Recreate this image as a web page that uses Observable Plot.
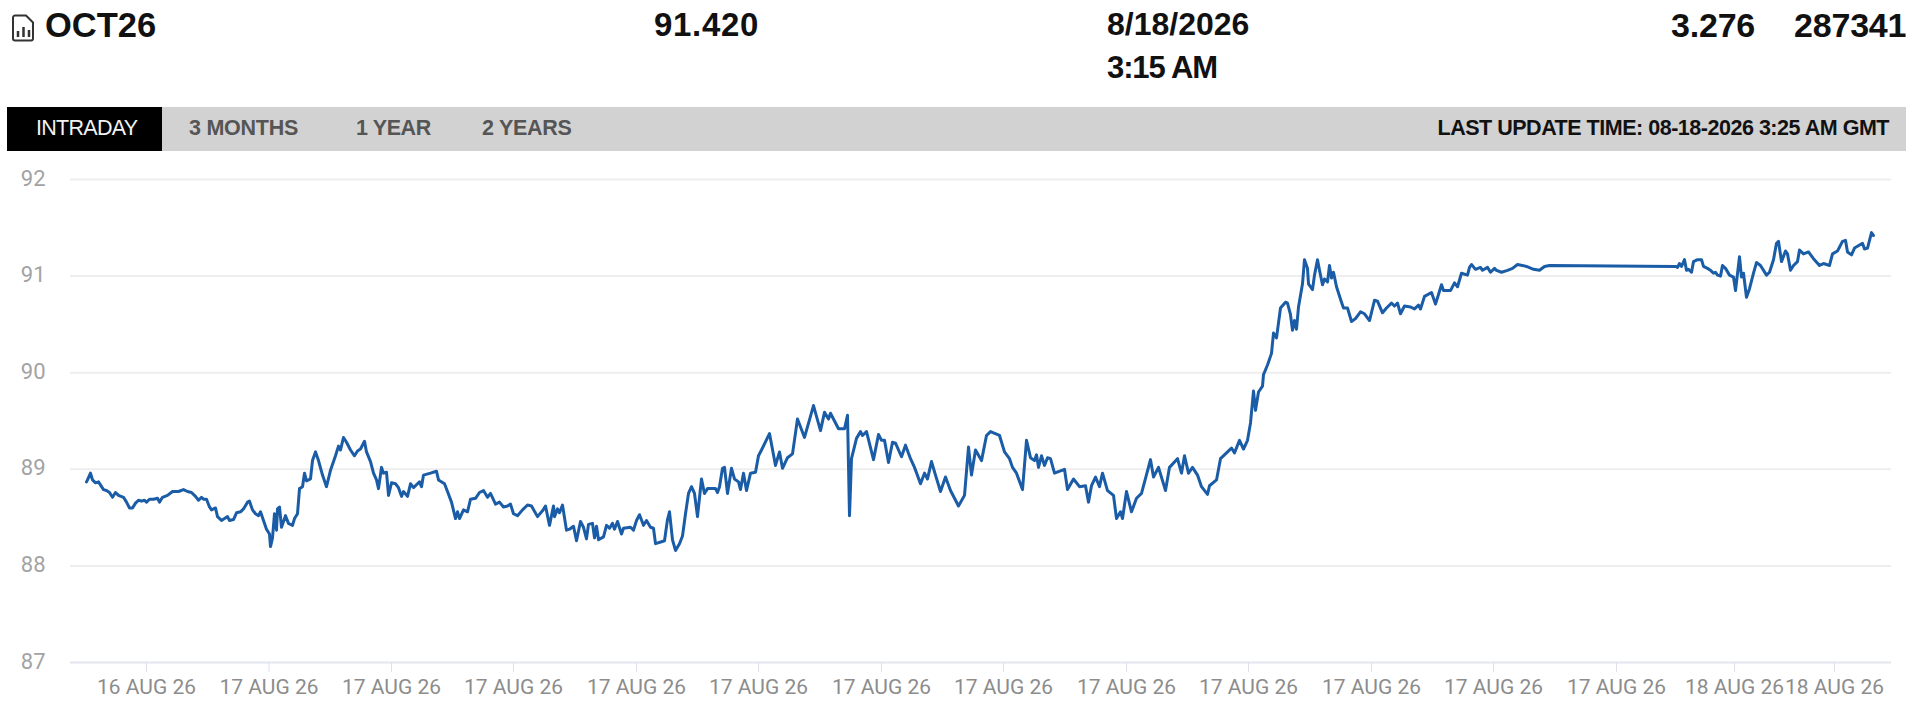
<!DOCTYPE html>
<html>
<head>
<meta charset="utf-8">
<script src="https://cdn.jsdelivr.net/npm/d3@7"></script>
<script src="https://cdn.jsdelivr.net/npm/@observablehq/plot@0.6"></script>
<style>
html,body{margin:0;padding:0;background:#fff;}
body{width:1920px;height:716px;overflow:hidden;position:relative;font-family:"Liberation Sans",Arial,sans-serif;}
#head{position:relative;width:1920px;height:160px;}
#head .t{position:absolute;white-space:nowrap;font-weight:700;color:#111;line-height:1;}
.big{font-size:31px;}
#bar{position:absolute;left:7px;top:107px;width:1899px;height:44px;background:#d2d2d2;}
#tab{position:absolute;left:7px;top:107px;width:155px;height:44px;background:#000;}
.nav{font-size:21.500px;top:118px;letter-spacing:-.25px;}
#chart{position:absolute;left:0;top:160px;}
#chart svg{display:block;}
</style>
</head>
<body>
<div id="head"></div>
<div id="chart"></div>
<script>
// Header and tab text
const contract = "OCT26";
const lastPrice = "91.420";
const quoteDate = "8/18/2026";
const quoteTime = "3:15 AM";
const change = "3.276";
const volume = "287341";
const tabs = ["INTRADAY", "3 MONTHS", "1 YEAR", "2 YEARS"];
const updated = "LAST UPDATE TIME: 08-18-2026 3:25 AM GMT";

// Axis ticks
const priceTicks = [87, 88, 89, 90, 91, 92];
const tickMinutes = [76, 198.5, 321, 443, 566, 688, 811, 933, 1056, 1178, 1301, 1423, 1546, 1664, 1764];
const tickLabels = ["16 AUG 26", "17 AUG 26", "17 AUG 26", "17 AUG 26", "17 AUG 26", "17 AUG 26", "17 AUG 26", "17 AUG 26", "17 AUG 26", "17 AUG 26", "17 AUG 26", "17 AUG 26", "17 AUG 26", "18 AUG 26", "18 AUG 26"];

// Price trace as [minute, price]
const traceA = [[16,88.87],[17,88.89],[20,88.96],[22,88.89],[25,88.86],[28,88.87],[33,88.79],[36,88.78],[39,88.76],[42,88.71],[45,88.76],[48,88.73],[53,88.71],[56,88.66],[59,88.60],[62,88.60],[65,88.65],[68,88.68],[71,88.67],[74,88.68],[76,88.66],[79,88.69],[83,88.69],[87,88.70],[89,88.66],[92,88.71],[97,88.73],[102,88.77],[108,88.77],[113,88.79],[117,88.77],[121,88.76],[125,88.72],[128,88.68],[131,88.71],[133,88.69],[136,88.69],[139,88.61],[141,88.58],[145,88.60],[147,88.51],[151,88.47],[154,88.49],[157,88.51],[159,88.47],[163,88.48],[166,88.55],[170,88.56],[173,88.59],[177,88.66],[179,88.67],[182,88.58],[185,88.54],[188,88.52],[190,88.56],[193,88.47],[196,88.38],[199,88.33],[200,88.20],[202,88.29],[204,88.54],[206,88.37],[207,88.59],[209,88.61],[211,88.40],[215,88.52],[218,88.44],[222,88.42],[224,88.49],[227,88.54],[229,88.80],[232,88.82],[234,88.96],[236,88.88],[240,88.90],[242,89.09],[245,89.18],[248,89.09],[252,88.94],[256,88.82]];
const traceB = [[260,88.99],[265,89.14],[268,89.24],[270,89.20],[273,89.33],[276,89.28],[280,89.20],[284,89.14],[287,89.19],[290,89.21],[294,89.29],[296,89.18],[300,89.08],[303,88.96],[306,88.89],[308,88.80],[311,89.02],[313,88.96],[316,88.97],[318,88.73],[321,88.86],[325,88.85],[328,88.81],[331,88.72],[333,88.77],[337,88.72],[340,88.85],[343,88.81],[347,88.85],[349,88.87],[351,88.82],[353,88.94],[360,88.96],[366,88.98],[368,88.89],[374,88.85],[377,88.77],[381,88.66],[385,88.49],[387,88.56],[389,88.49],[393,88.58],[397,88.56],[400,88.69],[405,88.70],[409,88.76],[413,88.78],[417,88.71],[420,88.75],[425,88.64],[429,88.66],[433,88.61],[437,88.62],[440,88.64],[443,88.54],[447,88.52],[452,88.58],[457,88.63],[461,88.62],[467,88.51],[472,88.57],[475,88.62],[479,88.42],[483,88.62],[484,88.51],[487,88.59],[489,88.55],[492,88.63],[496,88.37],[499,88.38],[503,88.41],[506,88.26]];
const traceC = [[510,88.46],[513,88.40],[516,88.28],[518,88.43],[522,88.44],[524,88.29],[526,88.41],[528,88.27],[533,88.30],[536,88.42],[539,88.39],[542,88.44],[544,88.38],[547,88.46],[551,88.33],[553,88.39],[560,88.40],[563,88.37],[566,88.47],[569,88.53],[573,88.42],[576,88.47],[580,88.40],[583,88.39],[585,88.23],[591,88.25],[594,88.26],[597,88.48],[599,88.56],[602,88.27],[605,88.16],[609,88.23],[612,88.31],[615,88.54],[618,88.75],[621,88.82],[624,88.75],[627,88.51],[631,88.90],[634,88.75],[637,88.80],[645,88.80],[647,88.76],[649,88.82],[652,89.01],[654,89.02],[657,88.75],[661,89.01],[664,88.90],[668,88.87],[670,88.79],[673,88.96],[676,88.78],[680,88.96],[685,88.97],[688,89.14],[691,89.20]];
const traceD = [[699,89.37],[705,89.04],[709,89.18],[712,89.01],[717,89.12],[722,89.16],[727,89.52],[734,89.33],[743,89.66],[750,89.40],[754,89.59],[758,89.52],[760,89.58],[768,89.42],[774,89.42],[777,89.56],[779,88.52],[781,89.11],[786,89.32],[790,89.39],[792,89.35],[796,89.39],[803,89.10],[808,89.36],[811,89.30],[814,89.30],[818,89.07],[822,89.28],[825,89.27],[831,89.13],[835,89.25],[840,89.11],[844,89.02],[850,88.85],[854,88.96],[857,88.90],[861,89.08],[865,88.94],[870,88.77],[875,88.92],[880,88.78],[888,88.62],[894,88.73],[898,89.23],[901,88.94],[905,89.20],[911,89.09],[916,89.35],[920,89.39],[929,89.35],[934,89.18],[939,89.11],[942,89.02],[946,88.96],[952,88.79],[956,89.30],[960,89.12],[964,89.09],[966,89.15],[968,89.02],[971,89.14],[974,89.04],[977,89.12],[980,89.11],[984,88.96],[994,89.00],[997,88.79],[1003,88.90],[1009,88.82],[1015,88.83],[1018,88.66],[1021,88.83],[1025,88.92],[1029,88.82],[1032,88.96],[1037,88.78],[1043,88.73],[1046,88.49],[1050,88.56],[1052,88.49],[1056,88.77],[1061,88.56],[1066,88.70],[1071,88.75],[1080,89.10],[1083,88.92],[1088,89.02],[1095,88.78],[1099,89.02],[1107,89.11],[1111,88.96],[1114,89.14],[1118,88.96],[1122,89.02],[1127,88.94],[1131,88.82],[1137,88.74],[1139,88.83],[1146,88.89]];
const traceE = [[1150,89.11],[1161,89.22],[1164,89.17],[1169,89.30],[1173,89.21],[1177,89.30],[1180,89.48],[1183,89.81],[1185,89.61],[1188,89.80],[1192,89.86],[1193,89.98],[1197,90.08],[1201,90.20],[1203,90.41],[1206,90.36],[1210,90.67],[1215,90.73],[1217,90.72],[1220,90.60],[1222,90.44],[1224,90.54],[1226,90.45],[1228,90.68],[1232,90.92],[1234,91.17],[1237,91.08],[1238,90.92],[1242,90.86],[1244,91.01],[1247,91.17],[1249,91.06],[1252,90.91],[1254,90.97],[1257,90.94],[1259,91.11],[1261,90.98],[1263,91.04],[1266,90.89],[1271,90.73],[1273,90.67],[1277,90.67],[1281,90.53],[1285,90.56],[1290,90.63],[1294,90.61],[1299,90.54],[1304,90.75],[1307,90.74],[1312,90.62],[1316,90.67],[1321,90.72],[1324,90.69],[1327,90.72],[1330,90.61],[1334,90.69],[1340,90.68],[1344,90.66],[1348,90.70],[1350,90.66],[1354,90.79],[1361,90.83],[1365,90.71],[1371,90.91],[1373,90.85],[1380,90.85],[1384,90.93],[1387,90.89],[1391,91.03],[1397,91.01],[1399,91.09]];
const traceF = [[1401,91.12],[1405,91.07],[1410,91.09],[1412,91.06],[1417,91.09],[1420,91.04],[1424,91.08],[1426,91.06],[1431,91.04],[1437,91.06],[1442,91.08],[1447,91.12],[1456,91.10],[1463,91.07],[1469,91.06],[1474,91.10],[1479,91.11],[1605,91.10]];
const traceG = [[1607,91.09],[1609,91.13],[1611,91.10],[1614,91.17],[1616,91.06],[1618,91.07],[1621,91.04],[1623,91.15],[1627,91.17],[1631,91.17],[1633,91.10],[1637,91.08],[1640,91.06],[1643,91.03],[1645,91.04],[1647,91.01],[1650,91.00],[1652,91.11],[1655,91.08],[1659,91.01],[1663,90.99],[1665,90.85],[1669,91.20],[1671,90.99],[1673,91.03],[1676,90.78],[1679,90.87],[1683,91.03],[1686,91.14],[1690,91.11],[1696,91.01],[1699,91.04],[1703,91.17],[1706,91.34],[1708,91.36],[1711,91.15],[1715,91.26],[1717,91.23],[1720,91.06],[1723,91.11],[1727,91.15],[1729,91.27],[1733,91.23],[1738,91.25],[1743,91.18],[1749,91.11],[1753,91.13],[1759,91.11],[1762,91.23],[1767,91.26],[1772,91.36],[1775,91.37],[1777,91.25],[1781,91.22],[1784,91.29],[1792,91.34],[1794,91.28],[1797,91.29],[1801,91.45],[1803,91.42]];
const trace = [...traceA, ...traceB, ...traceC, ...traceD, ...traceE, ...traceF, ...traceG];

// Header
const head = document.getElementById("head");
function add(text, cls, style) {
  const d = document.createElement("div");
  d.className = "t " + cls;
  d.textContent = text;
  d.style.cssText = style;
  head.appendChild(d);
}
head.insertAdjacentHTML("beforeend", '<div id="bar"></div><div id="tab"></div>' +
  '<svg style="position:absolute;left:12px;top:14px" width="23" height="28" viewBox="0 0 23 28" fill="none" stroke="#333" stroke-width="2">' +
  '<path d="M3 1.5h11l7 7v16a2 2 0 0 1-2 2H3a2 2 0 0 1-2-2v-21a2 2 0 0 1 2-2z"/>' +
  '<path d="M6 23v-6M11.500 23v-10M17 23v-7" stroke-width="2.500"/></svg>');
add(contract, "big", "left:45px;top:8px;font-size:34.500px");
add(lastPrice, "big", "left:654px;top:8px;font-size:33px;letter-spacing:.7px");
add(quoteDate, "big", "left:1107px;top:8px;font-size:32px");
add(quoteTime, "big", "left:1107px;top:52px;font-size:31px;letter-spacing:-1.1px");
add(change, "big", "left:1671px;top:8px;font-size:34px;letter-spacing:-.2px");
add(volume, "big", "left:1794px;top:8px;font-size:34px;letter-spacing:-.2px");
add(tabs[0], "nav", "left:36px;color:#f2f2f2;font-weight:400;letter-spacing:-.7px");
add(tabs[1], "nav", "left:189px;color:#555");
add(tabs[2], "nav", "left:356px;color:#555;letter-spacing:-.4px");
add(tabs[3], "nav", "left:482px;color:#555;letter-spacing:-.3px");
add(updated, "nav", "right:31px;color:#111;letter-spacing:-.48px");

// Chart
const plot = Plot.plot({
  width: 1920,
  height: 556,
  marginLeft: 70,
  marginRight: 29,
  marginTop: 19,
  marginBottom: 54,
  style: {background: "#fff", fontFamily: "Roboto, 'Liberation Sans', sans-serif", fontSize: "20px", overflow: "visible"},
  x: {domain: [0, 1821], axis: null},
  y: {domain: [87, 92], axis: null},
  marks: [
    Plot.ruleY(priceTicks.filter(d => d > 87), {stroke: "#eeeeee", strokeWidth: 2}),
    Plot.ruleY([87], {stroke: "#e4e5ee", strokeWidth: 2}),
    Plot.axisX({ticks: tickMinutes, anchor: "bottom", tickSize: 10, stroke: "#dfe0ea", fill: "none", label: null}),
    Plot.axisX({ticks: tickMinutes, anchor: "bottom", tickSize: 0, tickPadding: 17, fill: "#8c8c8c", fontSize: 21, label: null,
      tickFormat: d => tickLabels[tickMinutes.indexOf(d)]}),
    Plot.axisY({ticks: priceTicks, anchor: "left", tickSize: 0, tickPadding: 25, dy: -1, fill: "#a3a3a3", fontSize: 22, label: null, tickFormat: d => String(d)}),
    Plot.line(trace, {x: d => d[0], y: d => d[1], stroke: "#1a5ca6", strokeWidth: 3, strokeLinejoin: "round", curve: "linear"})
  ]
});
document.getElementById("chart").appendChild(plot);
</script>
</body>
</html>
